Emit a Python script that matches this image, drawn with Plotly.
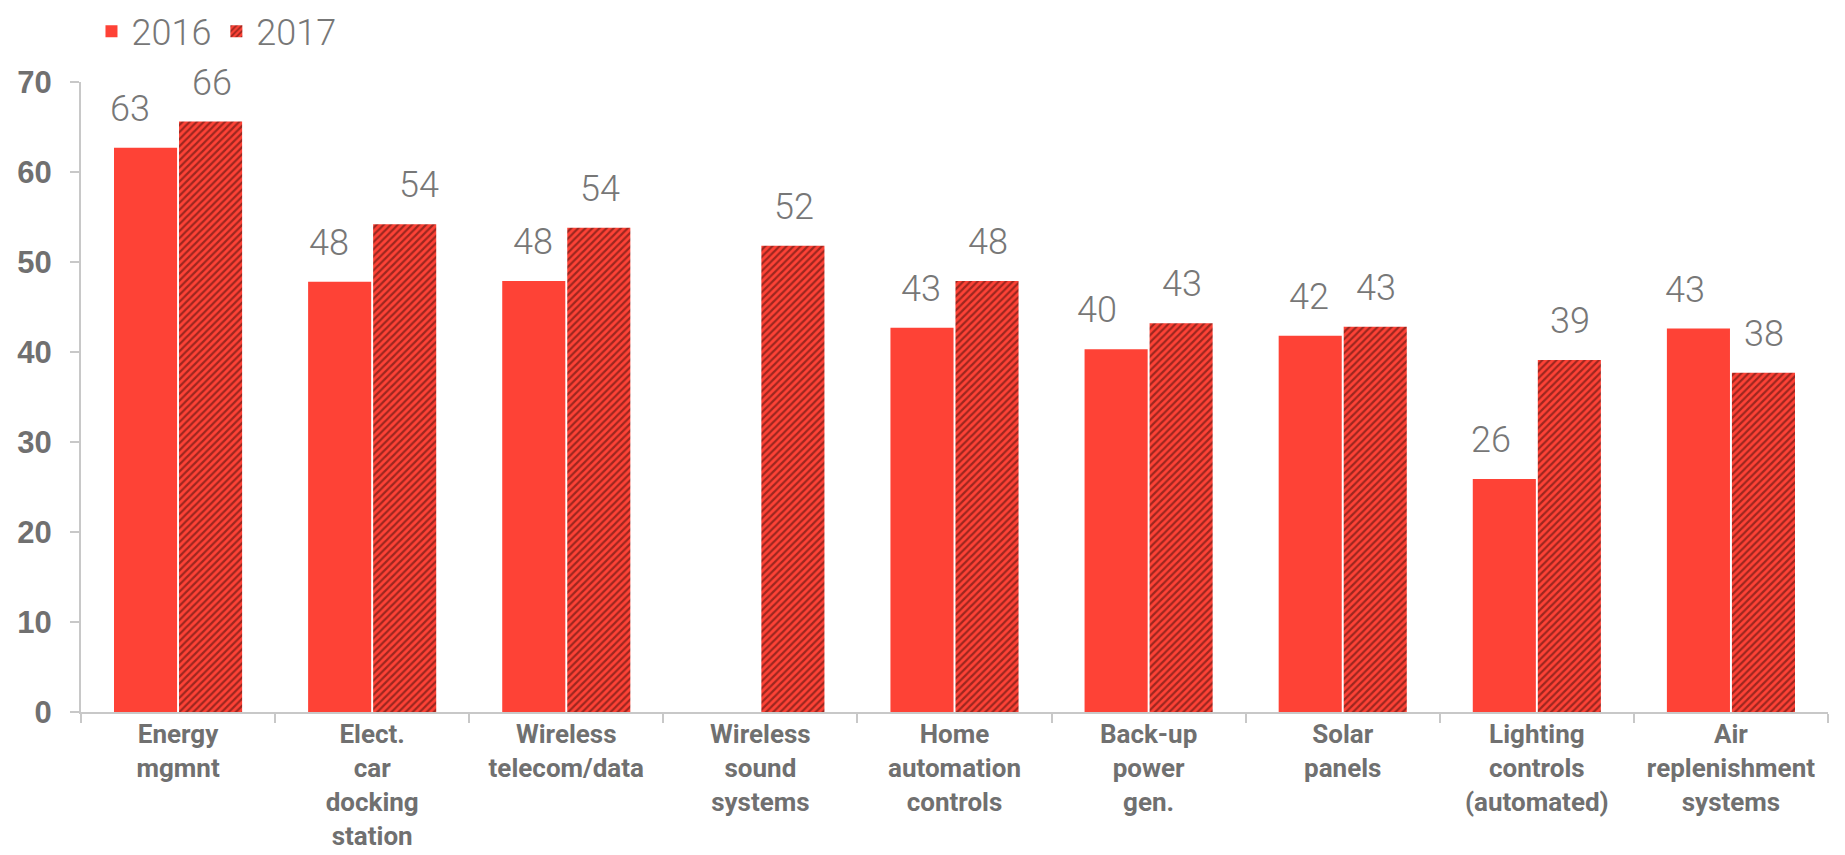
import plotly.graph_objects as go

categories = [
    "Energy<br>mgmnt",
    "Elect.<br>car<br>docking<br>station",
    "Wireless<br>telecom/data",
    "Wireless<br>sound<br>systems",
    "Home<br>automation<br>controls",
    "Back-up<br>power<br>gen.",
    "Solar<br>panels",
    "Lighting<br>controls<br>(automated)",
    "Air<br>replenishment<br>systems",
]
values_2016 = [62.7, 47.8, 47.9, None, 42.7, 40.3, 41.8, 25.9, 42.6]
values_2017 = [65.6, 54.2, 53.8, 51.8, 47.9, 43.2, 42.8, 39.1, 37.7]
y_ticks = [0, 10, 20, 30, 40, 50, 60, 70]

# label placement styles (pixel shifts relative to bar centre)
shift_2016 = [-15, -10, 0, 0, 0, -18, 0, -12, -12]
shift_2017 = [0, 13, 0, 0, 0, 0, 0, 0, 0]

RED = "#fe4236"
DARK = "#3a0c08"
GREY = "#777777"
LABEL_FONT = dict(family="Roboto, Liberation Sans, sans-serif", size=36, color=GREY, weight=300)


def fmt(v):
    return str(int(v + 0.5))


fig = go.Figure()
fig.add_trace(go.Bar(
    name="2016", x=categories, y=values_2016,
    marker=dict(color=RED, line=dict(width=0)),
))
fig.add_trace(go.Bar(
    name="2017", x=categories, y=values_2017,
    marker=dict(color=RED, line=dict(width=0),
                pattern=dict(shape="/", fgcolor=DARK, bgcolor=RED, size=5, solidity=0.45)),
))

BAR_OFFSET = 33.5
for i, c in enumerate(categories):
    if values_2016[i] is not None:
        fig.add_annotation(x=c, y=values_2016[i], text=fmt(values_2016[i]),
                           xref="x", yref="y", showarrow=False, yanchor="bottom",
                           xshift=-BAR_OFFSET + shift_2016[i], yshift=16, font=LABEL_FONT)
    if values_2017[i] is not None:
        fig.add_annotation(x=c, y=values_2017[i], text=fmt(values_2017[i]),
                           xref="x", yref="y", showarrow=False, yanchor="bottom",
                           xshift=BAR_OFFSET + shift_2017[i], yshift=16, font=LABEL_FONT)

# the page adds an 8px body margin, so the figure is 8px smaller than the window
fig.update_layout(
    width=1837, height=847,
    margin=dict(l=73, r=17, t=74, b=143, pad=0, autoexpand=False),
    paper_bgcolor="white", plot_bgcolor="white",
    barmode="group", bargap=0.33, bargroupgap=0.03,
    showlegend=True,
    legend=dict(orientation="h", xref="paper", yref="paper",
                x=0.006, xanchor="left", y=1.128, yanchor="top",
                font=LABEL_FONT, itemwidth=30, traceorder="normal",
                bgcolor="rgba(0,0,0,0)"),
    xaxis=dict(
        type="category", showline=True, linecolor="#c8c8c8", linewidth=2,
        ticks="outside", tickson="boundaries", ticklen=9, tickcolor="#c8c8c8", tickwidth=2,
        tickangle=0, automargin=False, ticklabelstandoff=-2,
        tickfont=dict(family="Roboto, sans-serif", size=26,
                      color="#707070", weight="bold"),
        showgrid=False, zeroline=False, fixedrange=True,
    ),
    yaxis=dict(
        range=[0, 70], tickvals=y_ticks, showline=True, linecolor="#c8c8c8", linewidth=2,
        ticks="outside", ticklen=9, tickcolor="#c8c8c8", tickwidth=2, automargin=False,
        tickfont=dict(family="Liberation Sans, Arial, sans-serif", size=31,
                      color="#707070", weight="bold"),
        ticklabelstandoff=12,
        showgrid=False, zeroline=False, fixedrange=True,
    ),
)

fig.write_html("out.html")
